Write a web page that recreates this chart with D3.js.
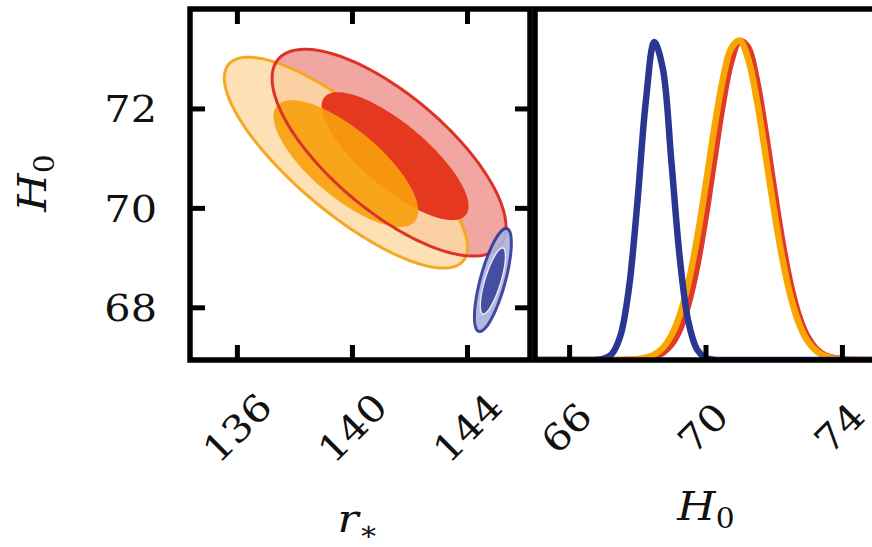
<!DOCTYPE html>
<html>
<head>
<meta charset="utf-8">
<script src="https://cdn.jsdelivr.net/npm/d3@7"></script>
<style>
  html, body { margin: 0; padding: 0; background: #ffffff; }
  svg { display: block; }
  text { font-family: "DejaVu Serif", serif; fill: #111; }
</style>
</head>
<body>
<svg id="chart" width="872" height="547"></svg>
<script>
// ---- data -------------------------------------------------------------
// tick values
const rTicks = [136, 140, 144];
const hTicks2d = [68, 70, 72];
const hTicks1d = [66, 70, 74];

// joint (r_*, H0) credible regions:
// [r centre, H0 centre, r of major semi-axis, H0 of major semi-axis, r of minor semi-axis, H0 of minor semi-axis]
const redOuter    = [141.29, 71.11, 3.853, -1.880, -1.301, -0.891];
const redInner    = [141.50, 71.04, 2.451, -1.189, -0.716, -0.493];
const orangeOuter = [139.79, 70.91, 4.077, -1.977, -1.117, -0.770];
const orangeInner = [139.79, 70.89, 2.397, -1.163, -0.760, -0.523];
const blueOuter   = [144.90, 68.55, 0.487,  1.035,  0.418, -0.066];
const blueInner   = [144.90, 68.53, 0.348,  0.663,  0.268, -0.046];

// marginal H0 posteriors (normalised to peak)
const hGrid = [65.0, 65.25, 65.5, 65.75, 66.0, 66.25, 66.5, 66.75, 67.0, 67.25, 67.5, 67.75,
  68.0, 68.25, 68.5, 68.75, 69.0, 69.25, 69.5, 69.75, 70.0, 70.25, 70.5, 70.75,
  71.0, 71.25, 71.5, 71.75, 72.0, 72.25, 72.5, 72.75, 73.0, 73.25, 73.5, 73.75,
  74.0, 74.25, 74.5, 74.75, 75.0];
const bluePdf = [0, 0, 0, 0, 0, 0, 0, 0.0002, 0.0034, 0.0184, 0.0739, 0.2204,
  0.4893, 0.8084, 0.9941, 0.9098, 0.6197, 0.3142, 0.1185, 0.0333, 0.0070, 0.0011, 0.0001, 0,
  0, 0, 0, 0, 0, 0, 0, 0, 0, 0, 0, 0,
  0, 0, 0, 0, 0];
const orangePdf = [0, 0, 0, 0, 0, 0, 0, 0, 0, 0, 0.0003, 0.0010,
  0.0028, 0.0072, 0.0173, 0.0379, 0.0765, 0.1417, 0.2414, 0.3778, 0.5433, 0.7180, 0.8720, 0.9733,
  0.9983, 0.9410, 0.8151, 0.6488, 0.4746, 0.3190, 0.1971, 0.1119, 0.0584, 0.0280, 0.0123, 0.0050,
  0.0019, 0.0006, 0.0002, 0, 0];
const redPdf = [0, 0, 0, 0, 0, 0, 0, 0, 0, 0, 0.0001, 0.0004,
  0.0013, 0.0036, 0.0093, 0.0221, 0.0480, 0.0956, 0.1743, 0.2909, 0.4443, 0.6210, 0.7944, 0.9300,
  0.9965, 0.9773, 0.8772, 0.7206, 0.5418, 0.3728, 0.2348, 0.1353, 0.0714, 0.0345, 0.0152, 0.0062,
  0.0023, 0.0008, 0.0002, 0, 0];

// ---- layout -----------------------------------------------------------
const svg = d3.select("#chart");
const plotTop = 9, plotBottom = 360;
const left2d = 190, right2d = 530;
const left1d = 535, right1d = 876;
const frameW = 5.5, tickLen = 15, tickW = 5;

const x2d = d3.scaleLinear().domain([134.37, 146.19]).range([left2d, right2d]);
const y2d = d3.scaleLinear().domain([66.94, 74.0]).range([plotBottom, plotTop]);
const x1d = d3.scaleLinear().domain([65, 75]).range([left1d, right1d]);
const y1d = d3.scaleLinear().domain([0, 1]).range([plotBottom, 40]);

const defs = svg.append("defs");
defs.append("clipPath").attr("id", "clip2d").append("rect")
  .attr("x", left2d).attr("y", plotTop).attr("width", right2d - left2d).attr("height", plotBottom - plotTop);
defs.append("clipPath").attr("id", "clip1d").append("rect")
  .attr("x", left1d).attr("y", plotTop).attr("width", right1d - left1d).attr("height", plotBottom - plotTop);

// ellipse outline from centre and conjugate semi-axes, mapped through the scales
function ellipsePath(e) {
  const pts = d3.range(0, 160).map(i => {
    const t = i / 160 * 2 * Math.PI;
    return [x2d(e[0] + Math.cos(t) * e[2] + Math.sin(t) * e[4]),
            y2d(e[1] + Math.cos(t) * e[3] + Math.sin(t) * e[5])];
  });
  return d3.line().curve(d3.curveLinearClosed)(pts);
}

// ---- 2D panel ---------------------------------------------------------
const g2 = svg.append("g").attr("clip-path", "url(#clip2d)");

g2.append("path").attr("d", ellipsePath(redOuter)).attr("fill", "#f2a6a2");
g2.append("path").attr("d", ellipsePath(orangeOuter)).attr("fill", "#fdd9a3").attr("fill-opacity", 0.82)
  .attr("stroke", "#f4a823").attr("stroke-width", 3);
g2.append("path").attr("d", ellipsePath(redInner)).attr("fill", "#e5391f");
g2.append("path").attr("d", ellipsePath(orangeInner)).attr("fill", "#f8a00c").attr("fill-opacity", 0.9);
g2.append("path").attr("d", ellipsePath(redOuter)).attr("fill", "none")
  .attr("stroke", "#db3326").attr("stroke-width", 3);

const gBlue = g2.append("g").attr("opacity", 0.92);
gBlue.append("path").attr("d", ellipsePath(blueOuter)).attr("fill", "#aeb3dc")
  .attr("stroke", "#2f3a98").attr("stroke-width", 3);
gBlue.append("path").attr("d", ellipsePath(blueInner)).attr("fill", "#36409a")
  .attr("stroke", "#e4e6f6").attr("stroke-width", 1.5);

// ---- 1D panel ---------------------------------------------------------
const g1 = svg.append("g").attr("clip-path", "url(#clip1d)");
const pdfLine = d3.line().curve(d3.curveCatmullRom.alpha(0.5))
  .x((d, i) => x1d(hGrid[i])).y(d => y1d(d));
[[redPdf, "#e0392a"], [orangePdf, "#f9a602"], [bluePdf, "#2b3592"]].forEach(([pdf, col]) => {
  g1.append("path").attr("d", pdfLine(pdf)).attr("fill", "none")
    .attr("stroke", col).attr("stroke-width", 6.5).attr("stroke-linejoin", "round");
});

// ---- axes (inward ticks) ----------------------------------------------
function styleAxis(g) {
  g.select(".domain").remove();
  g.selectAll(".tick line").attr("stroke", "#000").attr("stroke-width", tickW);
  g.selectAll(".tick text").style("font-family", "'DejaVu Serif', serif").attr("font-size", 37).attr("fill", "#111");
}

// left panel: bottom & top
const ax2b = svg.append("g").attr("transform", `translate(0,${plotBottom})`)
  .call(d3.axisBottom(x2d).tickValues(rTicks).tickSize(-tickLen).tickFormat(d3.format("d")));
styleAxis(ax2b);
ax2b.selectAll(".tick text").attr("y", 0).attr("dy", "0.35em").attr("text-anchor", "middle")
  .attr("transform", "translate(0,68) rotate(-45) scale(1.12,1)");

svg.append("g").attr("transform", `translate(0,${plotTop})`)
  .call(d3.axisTop(x2d).tickValues(rTicks).tickSize(-tickLen).tickFormat(""))
  .call(styleAxis);

// left panel: left & right
const ax2l = svg.append("g").attr("transform", `translate(${left2d},0)`)
  .call(d3.axisLeft(y2d).tickValues(hTicks2d).tickSize(-tickLen).tickFormat(d3.format("d")));
styleAxis(ax2l);
ax2l.selectAll(".tick text").attr("x", 0).attr("dy", "0.36em").attr("text-anchor", "end")
  .attr("transform", "translate(-33,0) scale(1.12,1)");

svg.append("g").attr("transform", `translate(${right2d},0)`)
  .call(d3.axisRight(y2d).tickValues(hTicks2d).tickSize(-tickLen).tickFormat(""))
  .call(styleAxis);

// right panel: bottom
const ax1b = svg.append("g").attr("transform", `translate(0,${plotBottom})`)
  .call(d3.axisBottom(x1d).tickValues(hTicks1d).tickSize(-tickLen).tickFormat(d3.format("d")));
styleAxis(ax1b);
ax1b.selectAll(".tick text").attr("y", 0).attr("dy", "0.35em").attr("text-anchor", "middle")
  .attr("transform", "translate(-3,68) rotate(-45) scale(1.12,1)");

// ---- frames -----------------------------------------------------------
svg.append("rect").attr("x", left2d).attr("y", plotTop)
  .attr("width", right2d - left2d).attr("height", plotBottom - plotTop)
  .attr("fill", "none").attr("stroke", "#000").attr("stroke-width", frameW);
svg.append("rect").attr("x", left1d).attr("y", plotTop)
  .attr("width", right1d - left1d).attr("height", plotBottom - plotTop)
  .attr("fill", "none").attr("stroke", "#000").attr("stroke-width", frameW);

// ---- axis titles ------------------------------------------------------
function mathLabel(sel, main, sub) {
  sel.append("tspan").attr("font-style", "italic").attr("font-size", 40).text(main);
  sel.append("tspan").attr("font-size", 27).attr("dy", 8).text(sub);
}
svg.append("text").attr("text-anchor", "middle")
  .attr("transform", "translate(46,183) rotate(-90) scale(1.1,1)")
  .call(mathLabel, "H", "0");
svg.append("text").attr("text-anchor", "middle")
  .attr("transform", "translate(706,520) scale(1.1,1)")
  .call(mathLabel, "H", "0");
svg.append("text").attr("text-anchor", "middle")
  .attr("transform", "translate(358,532) scale(1.1,1)")
  .call(mathLabel, "r", "\u2217");
</script>
</body>
</html>
